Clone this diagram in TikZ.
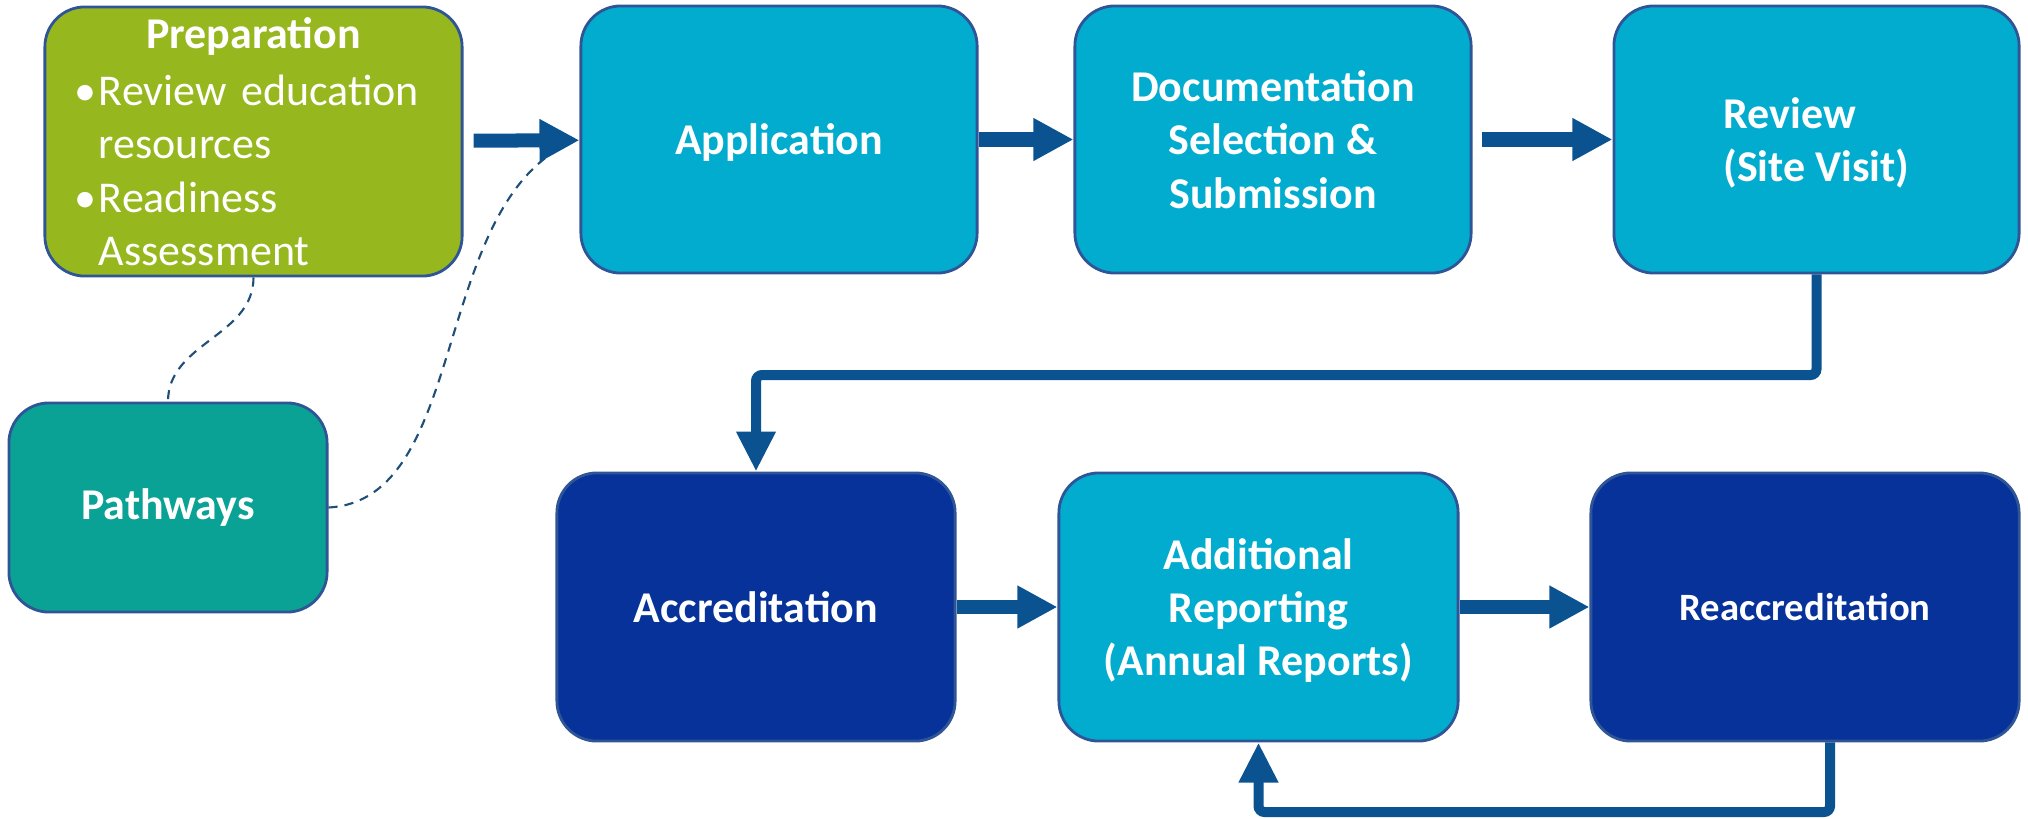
\documentclass[tikz,border=0pt]{standalone}
\usepackage{fontspec}
\setmainfont{Carlito}
\usetikzlibrary{arrows.meta}
\definecolor{prepgreen}{HTML}{97B71E}
\definecolor{stepcyan}{HTML}{02ACCF}
\definecolor{pathteal}{HTML}{0AA294}
\definecolor{accnavy}{HTML}{063299}
\definecolor{edgeblue}{HTML}{2F5597}
\definecolor{arrowblue}{HTML}{0B5290}
\definecolor{linkblue}{HTML}{1F4E79}
\newcommand{\bodyfont}{\fontsize{12.5pt}{15.2pt}\selectfont}
\newcommand{\itembullet}{\makebox[0.26cm][l]{\hspace{0.02cm}\textbullet}}
\tikzstyle{stage}=[rectangle, rounded corners=0.4cm, draw=edgeblue, line width=0.8pt, text=white, font=\bodyfont\bfseries, align=center, minimum height=2.67cm, minimum width=3.96cm, inner sep=0pt]
\tikzstyle{flow}=[-{Triangle[width=0.4cm,length=0.4cm]}, line width=0.14cm, draw=arrowblue]
\tikzstyle{elbowarrow}=[-{Triangle[width=0.37cm,length=0.4cm]}, line width=0.1cm, draw=arrowblue, rounded corners=0.06cm]
\tikzstyle{dashlink}=[draw=linkblue, line width=0.6pt, dash pattern=on 2.6pt off 2pt]

\begin{document}
\begin{tikzpicture}[x=0.01cm, y=-0.01cm]
                \useasboundingbox (0,0) rectangle (2028,818);
                \node[stage, fill=prepgreen, minimum width=4.17cm, minimum height=2.69cm, text width=3.61cm, align=left] (prep) at (253.5,141.5)
                    {\makebox[\linewidth]{\bfseries Preparation}\\[1pt]
                     \mdseries\itembullet Review education\\ \hspace*{0.26cm}resources\\
                     \itembullet Readiness\\ \hspace*{0.26cm}Assessment};
                \node[stage, fill=stepcyan, text depth=0pt] (app) at (779,139.5) {Application};
                \node[stage, fill=stepcyan] (doc) at (1273,139.5) {Documentation\\Selection \&\\Submission};
                \node[stage, fill=stepcyan, minimum width=4.05cm, align=left, text depth=0pt] (rev) at (1816.5,139.5) {Review\\(Site Visit)};
                \node[stage, fill=pathteal, minimum width=3.18cm, minimum height=2.09cm] (path) at (168,507.5) {Pathways};
                \node[stage, fill=accnavy, minimum width=3.98cm, minimum height=2.68cm] (acc) at (756,607) {Accreditation};
                \node[stage, fill=stepcyan, minimum width=3.99cm, minimum height=2.68cm, text depth=0pt] (addl) at (1258.5,607) {Additional\\Reporting\\(Annual Reports)};
                \node[stage, fill=accnavy, minimum width=4.28cm, minimum height=2.68cm, font=\fontsize{11pt}{14pt}\selectfont\bfseries] (reac) at (1805,607) {Reaccreditation};
                \coordinate (topbend) at (0,375);
                \coordinate (lowbend) at (0,812);
                % dashed links from pathways
                \draw[dashlink] (prep.south) to[out=-90, in=90] (path.north);
                \draw[dashlink] (path.east) .. controls (470,500) and (430,205) .. (572,142);
                % main flow
                \draw[flow, shorten <=0.1cm]  (prep)--(app);
                \draw[flow]  (app)--(doc);
                \draw[flow, shorten <=0.09cm]  (doc)--(rev);
                \draw[elbowarrow]  (rev.south) -- (rev.south |- topbend) -- (acc.north |- topbend) -- (acc.north);
                \draw[flow]  (acc)--(addl);
                \draw[flow]  (addl)--(reac);
                \draw[elbowarrow]  ([xshift=0.25cm]reac.south) -- ([xshift=0.25cm]reac.south |- lowbend) -- (addl.south |- lowbend) -- (addl.south);
            \end{tikzpicture}
\end{document}
